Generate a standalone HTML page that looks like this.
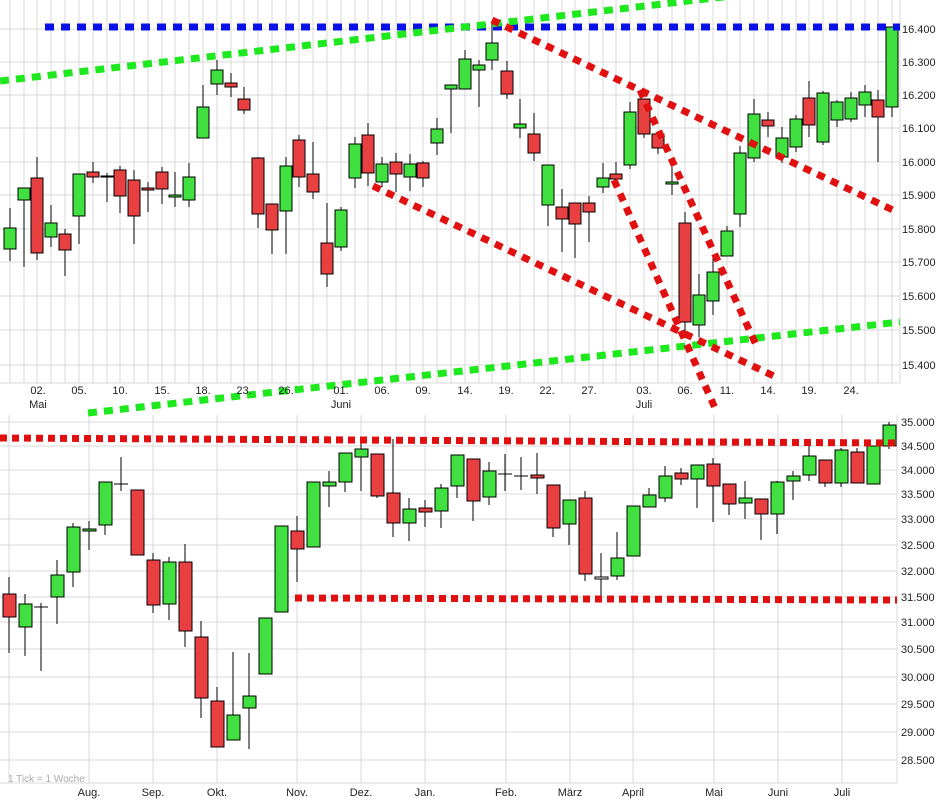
<!DOCTYPE html>
<html><head><meta charset="utf-8"><style>
body{margin:0;background:#fff;}
svg{display:block;font-family:"Liberation Sans",sans-serif;}
.t{font-size:11px;fill:#222;}
.g line{stroke:#d8d8d8;stroke-width:1;}
.c line{stroke:#000;stroke-width:1;}
.c rect{stroke:#000;stroke-width:1;}
</style></head><body>
<svg width="941" height="805" viewBox="0 0 941 805">
<rect width="941" height="805" fill="#fff"/>
<!-- TOP GRID -->
<g class="g">
<line x1="0" y1="29" x2="900" y2="29"/><line x1="0" y1="62" x2="900" y2="62"/><line x1="0" y1="95" x2="900" y2="95"/><line x1="0" y1="128" x2="900" y2="128"/><line x1="0" y1="162" x2="900" y2="162"/><line x1="0" y1="195" x2="900" y2="195"/><line x1="0" y1="229" x2="900" y2="229"/><line x1="0" y1="262" x2="900" y2="262"/><line x1="0" y1="296" x2="900" y2="296"/><line x1="0" y1="330" x2="900" y2="330"/><line x1="0" y1="365" x2="900" y2="365"/>
<line x1="10" y1="0" x2="10" y2="383"/><line x1="24" y1="0" x2="24" y2="383"/><line x1="37" y1="0" x2="37" y2="383"/><line x1="51" y1="0" x2="51" y2="383"/><line x1="65" y1="0" x2="65" y2="383"/><line x1="79" y1="0" x2="79" y2="383"/><line x1="93" y1="0" x2="93" y2="383"/><line x1="107" y1="0" x2="107" y2="383"/><line x1="120" y1="0" x2="120" y2="383"/><line x1="134" y1="0" x2="134" y2="383"/><line x1="148" y1="0" x2="148" y2="383"/><line x1="162" y1="0" x2="162" y2="383"/><line x1="175" y1="0" x2="175" y2="383"/><line x1="189" y1="0" x2="189" y2="383"/><line x1="203" y1="0" x2="203" y2="383"/><line x1="217" y1="0" x2="217" y2="383"/><line x1="231" y1="0" x2="231" y2="383"/><line x1="244" y1="0" x2="244" y2="383"/><line x1="258" y1="0" x2="258" y2="383"/><line x1="272" y1="0" x2="272" y2="383"/><line x1="286" y1="0" x2="286" y2="383"/><line x1="299" y1="0" x2="299" y2="383"/><line x1="313" y1="0" x2="313" y2="383"/><line x1="327" y1="0" x2="327" y2="383"/><line x1="341" y1="0" x2="341" y2="383"/><line x1="355" y1="0" x2="355" y2="383"/><line x1="368" y1="0" x2="368" y2="383"/><line x1="382" y1="0" x2="382" y2="383"/><line x1="396" y1="0" x2="396" y2="383"/><line x1="410" y1="0" x2="410" y2="383"/><line x1="423" y1="0" x2="423" y2="383"/><line x1="437" y1="0" x2="437" y2="383"/><line x1="451" y1="0" x2="451" y2="383"/><line x1="465" y1="0" x2="465" y2="383"/><line x1="479" y1="0" x2="479" y2="383"/><line x1="492" y1="0" x2="492" y2="383"/><line x1="507" y1="0" x2="507" y2="383"/><line x1="520" y1="0" x2="520" y2="383"/><line x1="534" y1="0" x2="534" y2="383"/><line x1="548" y1="0" x2="548" y2="383"/><line x1="562" y1="0" x2="562" y2="383"/><line x1="575" y1="0" x2="575" y2="383"/><line x1="589" y1="0" x2="589" y2="383"/><line x1="603" y1="0" x2="603" y2="383"/><line x1="616" y1="0" x2="616" y2="383"/><line x1="630" y1="0" x2="630" y2="383"/><line x1="644" y1="0" x2="644" y2="383"/><line x1="658" y1="0" x2="658" y2="383"/><line x1="672" y1="0" x2="672" y2="383"/><line x1="685" y1="0" x2="685" y2="383"/><line x1="699" y1="0" x2="699" y2="383"/><line x1="713" y1="0" x2="713" y2="383"/><line x1="727" y1="0" x2="727" y2="383"/><line x1="740" y1="0" x2="740" y2="383"/><line x1="754" y1="0" x2="754" y2="383"/><line x1="768" y1="0" x2="768" y2="383"/><line x1="782" y1="0" x2="782" y2="383"/><line x1="796" y1="0" x2="796" y2="383"/><line x1="809" y1="0" x2="809" y2="383"/><line x1="823" y1="0" x2="823" y2="383"/><line x1="837" y1="0" x2="837" y2="383"/><line x1="851" y1="0" x2="851" y2="383"/><line x1="865" y1="0" x2="865" y2="383"/><line x1="878" y1="0" x2="878" y2="383"/><line x1="892" y1="0" x2="892" y2="383"/>
<line x1="900" y1="0" x2="900" y2="383"/><line x1="0" y1="383" x2="900" y2="383"/>
</g>
<!-- BOTTOM GRID -->
<g class="g">
<line x1="0" y1="422" x2="897" y2="422"/><line x1="0" y1="446" x2="897" y2="446"/><line x1="0" y1="470" x2="897" y2="470"/><line x1="0" y1="494" x2="897" y2="494"/><line x1="0" y1="519" x2="897" y2="519"/><line x1="0" y1="545" x2="897" y2="545"/><line x1="0" y1="571" x2="897" y2="571"/><line x1="0" y1="597" x2="897" y2="597"/><line x1="0" y1="622" x2="897" y2="622"/><line x1="0" y1="649" x2="897" y2="649"/><line x1="0" y1="677" x2="897" y2="677"/><line x1="0" y1="704" x2="897" y2="704"/><line x1="0" y1="732" x2="897" y2="732"/><line x1="0" y1="760" x2="897" y2="760"/>
<line x1="9" y1="415" x2="9" y2="783"/><line x1="89" y1="415" x2="89" y2="783"/><line x1="153" y1="415" x2="153" y2="783"/><line x1="217" y1="415" x2="217" y2="783"/><line x1="297" y1="415" x2="297" y2="783"/><line x1="361" y1="415" x2="361" y2="783"/><line x1="425" y1="415" x2="425" y2="783"/><line x1="506" y1="415" x2="506" y2="783"/><line x1="570" y1="415" x2="570" y2="783"/><line x1="633" y1="415" x2="633" y2="783"/><line x1="714" y1="415" x2="714" y2="783"/><line x1="778" y1="415" x2="778" y2="783"/><line x1="842" y1="415" x2="842" y2="783"/>
<line x1="897" y1="415" x2="897" y2="783"/><line x1="0" y1="783" x2="897" y2="783"/>
</g>
<!-- TOP CANDLES -->
<g class="c">
<line x1="10" y1="208" x2="10" y2="261"/><rect x="4" y="228" width="12" height="21" fill="#3fe03f"/>
<line x1="24" y1="188" x2="24" y2="267"/><rect x="18" y="188" width="12" height="12" fill="#3fe03f"/>
<line x1="37" y1="157" x2="37" y2="260"/><rect x="31" y="178" width="12" height="75" fill="#e84040"/>
<line x1="51" y1="205" x2="51" y2="247"/><rect x="45" y="223" width="12" height="14" fill="#3fe03f"/>
<line x1="65" y1="229" x2="65" y2="276"/><rect x="59" y="234" width="12" height="16" fill="#e84040"/>
<line x1="79" y1="174" x2="79" y2="244"/><rect x="73" y="174" width="12" height="42" fill="#3fe03f"/>
<line x1="93" y1="162" x2="93" y2="183"/><rect x="87" y="172" width="12" height="5" fill="#e84040"/>
<line x1="107" y1="173" x2="107" y2="202"/><rect x="101" y="176" width="12" height="1" fill="#e84040"/>
<line x1="120" y1="166" x2="120" y2="213"/><rect x="114" y="170" width="12" height="26" fill="#e84040"/>
<line x1="134" y1="170" x2="134" y2="244"/><rect x="128" y="180" width="12" height="36" fill="#e84040"/>
<line x1="148" y1="182" x2="148" y2="212"/><rect x="142" y="188" width="12" height="2" fill="#e84040"/>
<line x1="162" y1="167" x2="162" y2="204"/><rect x="156" y="172" width="12" height="17" fill="#e84040"/>
<line x1="175" y1="172" x2="175" y2="207"/><rect x="169" y="195" width="12" height="2" fill="#3fe03f"/>
<line x1="189" y1="163" x2="189" y2="207"/><rect x="183" y="177" width="12" height="23" fill="#3fe03f"/>
<line x1="203" y1="85" x2="203" y2="138"/><rect x="197" y="107" width="12" height="31" fill="#3fe03f"/>
<line x1="217" y1="60" x2="217" y2="95"/><rect x="211" y="70" width="12" height="14" fill="#3fe03f"/>
<line x1="231" y1="73" x2="231" y2="97"/><rect x="225" y="83" width="12" height="4" fill="#e84040"/>
<line x1="244" y1="87" x2="244" y2="114"/><rect x="238" y="99" width="12" height="11" fill="#e84040"/>
<line x1="258" y1="157" x2="258" y2="228"/><rect x="252" y="158" width="12" height="56" fill="#e84040"/>
<line x1="272" y1="204" x2="272" y2="254"/><rect x="266" y="204" width="12" height="26" fill="#e84040"/>
<line x1="286" y1="157" x2="286" y2="254"/><rect x="280" y="166" width="12" height="45" fill="#3fe03f"/>
<line x1="299" y1="135" x2="299" y2="187"/><rect x="293" y="140" width="12" height="37" fill="#e84040"/>
<line x1="313" y1="142" x2="313" y2="199"/><rect x="307" y="174" width="12" height="18" fill="#e84040"/>
<line x1="327" y1="203" x2="327" y2="287"/><rect x="321" y="243" width="12" height="31" fill="#e84040"/>
<line x1="341" y1="207" x2="341" y2="251"/><rect x="335" y="210" width="12" height="37" fill="#3fe03f"/>
<line x1="355" y1="137" x2="355" y2="188"/><rect x="349" y="144" width="12" height="34" fill="#3fe03f"/>
<line x1="368" y1="123" x2="368" y2="186"/><rect x="362" y="135" width="12" height="38" fill="#e84040"/>
<line x1="382" y1="157" x2="382" y2="187"/><rect x="376" y="164" width="12" height="18" fill="#3fe03f"/>
<line x1="396" y1="153" x2="396" y2="192"/><rect x="390" y="162" width="12" height="12" fill="#e84040"/>
<line x1="410" y1="154" x2="410" y2="191"/><rect x="404" y="164" width="12" height="13" fill="#3fe03f"/>
<line x1="423" y1="161" x2="423" y2="187"/><rect x="417" y="163" width="12" height="15" fill="#e84040"/>
<line x1="437" y1="118" x2="437" y2="155"/><rect x="431" y="129" width="12" height="14" fill="#3fe03f"/>
<line x1="451" y1="85" x2="451" y2="133"/><rect x="445" y="85" width="12" height="4" fill="#3fe03f"/>
<line x1="465" y1="50" x2="465" y2="89"/><rect x="459" y="59" width="12" height="30" fill="#3fe03f"/>
<line x1="479" y1="60" x2="479" y2="107"/><rect x="473" y="65" width="12" height="5" fill="#3fe03f"/>
<line x1="492" y1="23" x2="492" y2="70"/><rect x="486" y="43" width="12" height="17" fill="#3fe03f"/>
<line x1="507" y1="61" x2="507" y2="99"/><rect x="501" y="71" width="12" height="23" fill="#e84040"/>
<line x1="520" y1="99" x2="520" y2="138"/><rect x="514" y="124" width="12" height="4" fill="#3fe03f"/>
<line x1="534" y1="113" x2="534" y2="161"/><rect x="528" y="134" width="12" height="19" fill="#e84040"/>
<line x1="548" y1="165" x2="548" y2="226"/><rect x="542" y="165" width="12" height="40" fill="#3fe03f"/>
<line x1="562" y1="189" x2="562" y2="252"/><rect x="556" y="207" width="12" height="12" fill="#e84040"/>
<line x1="575" y1="203" x2="575" y2="258"/><rect x="569" y="203" width="12" height="21" fill="#e84040"/>
<line x1="589" y1="196" x2="589" y2="242"/><rect x="583" y="203" width="12" height="9" fill="#e84040"/>
<line x1="603" y1="163" x2="603" y2="193"/><rect x="597" y="178" width="12" height="9" fill="#3fe03f"/>
<line x1="616" y1="162" x2="616" y2="183"/><rect x="610" y="174" width="12" height="5" fill="#e84040"/>
<line x1="630" y1="102" x2="630" y2="169"/><rect x="624" y="112" width="12" height="53" fill="#3fe03f"/>
<line x1="644" y1="99" x2="644" y2="138"/><rect x="638" y="99" width="12" height="35" fill="#e84040"/>
<line x1="658" y1="134" x2="658" y2="154"/><rect x="652" y="134" width="12" height="14" fill="#e84040"/>
<line x1="672" y1="167" x2="672" y2="195"/><rect x="666" y="182" width="12" height="2" fill="#3fe03f"/>
<line x1="685" y1="212" x2="685" y2="333"/><rect x="679" y="223" width="12" height="99" fill="#e84040"/>
<line x1="699" y1="274" x2="699" y2="337"/><rect x="693" y="295" width="12" height="30" fill="#3fe03f"/>
<line x1="713" y1="257" x2="713" y2="315"/><rect x="707" y="272" width="12" height="29" fill="#3fe03f"/>
<line x1="727" y1="226" x2="727" y2="256"/><rect x="721" y="231" width="12" height="25" fill="#3fe03f"/>
<line x1="740" y1="146" x2="740" y2="227"/><rect x="734" y="153" width="12" height="61" fill="#3fe03f"/>
<line x1="754" y1="99" x2="754" y2="162"/><rect x="748" y="114" width="12" height="44" fill="#3fe03f"/>
<line x1="768" y1="112" x2="768" y2="137"/><rect x="762" y="120" width="12" height="6" fill="#e84040"/>
<line x1="782" y1="127" x2="782" y2="163"/><rect x="776" y="138" width="12" height="19" fill="#3fe03f"/>
<line x1="796" y1="115" x2="796" y2="152"/><rect x="790" y="119" width="12" height="28" fill="#3fe03f"/>
<line x1="809" y1="81" x2="809" y2="137"/><rect x="803" y="98" width="12" height="27" fill="#e84040"/>
<line x1="823" y1="91" x2="823" y2="145"/><rect x="817" y="93" width="12" height="49" fill="#3fe03f"/>
<line x1="837" y1="100" x2="837" y2="127"/><rect x="831" y="102" width="12" height="18" fill="#3fe03f"/>
<line x1="851" y1="92" x2="851" y2="122"/><rect x="845" y="98" width="12" height="21" fill="#3fe03f"/>
<line x1="865" y1="85" x2="865" y2="117"/><rect x="859" y="92" width="12" height="13" fill="#3fe03f"/>
<line x1="878" y1="90" x2="878" y2="162"/><rect x="872" y="100" width="12" height="17" fill="#e84040"/>
<line x1="892" y1="27" x2="892" y2="117"/><rect x="886" y="27" width="12" height="80" fill="#3fe03f"/>
</g>
<!-- BOTTOM CANDLES -->
<g class="c">
<line x1="9" y1="577" x2="9" y2="653"/><rect x="3" y="594" width="13" height="23" fill="#e84040"/>
<line x1="25" y1="594" x2="25" y2="656"/><rect x="19" y="604" width="13" height="23" fill="#3fe03f"/>
<line x1="41" y1="603" x2="41" y2="671"/><line x1="34" y1="607" x2="48" y2="607"/>
<line x1="57" y1="560" x2="57" y2="624"/><rect x="51" y="575" width="13" height="22" fill="#3fe03f"/>
<line x1="73" y1="523" x2="73" y2="587"/><rect x="67" y="527" width="13" height="45" fill="#3fe03f"/>
<line x1="89" y1="521" x2="89" y2="550"/><rect x="83" y="529" width="13" height="2" fill="#3fe03f"/>
<line x1="105" y1="482" x2="105" y2="535"/><rect x="99" y="482" width="13" height="43" fill="#3fe03f"/>
<line x1="121" y1="457" x2="121" y2="491"/><line x1="114" y1="484" x2="128" y2="484"/>
<rect x="131" y="490" width="13" height="65" fill="#e84040"/>
<line x1="153" y1="553" x2="153" y2="613"/><rect x="147" y="560" width="13" height="45" fill="#e84040"/>
<line x1="169" y1="557" x2="169" y2="620"/><rect x="163" y="562" width="13" height="42" fill="#3fe03f"/>
<line x1="185" y1="544" x2="185" y2="647"/><rect x="179" y="562" width="13" height="69" fill="#e84040"/>
<line x1="201" y1="621" x2="201" y2="718"/><rect x="195" y="637" width="13" height="61" fill="#e84040"/>
<line x1="217" y1="687" x2="217" y2="747"/><rect x="211" y="701" width="13" height="46" fill="#e84040"/>
<line x1="233" y1="652" x2="233" y2="740"/><rect x="227" y="715" width="13" height="25" fill="#3fe03f"/>
<line x1="249" y1="653" x2="249" y2="749"/><rect x="243" y="696" width="13" height="12" fill="#3fe03f"/>
<rect x="259" y="618" width="13" height="56" fill="#3fe03f"/>
<rect x="275" y="526" width="13" height="86" fill="#3fe03f"/>
<line x1="297" y1="516" x2="297" y2="582"/><rect x="291" y="531" width="13" height="18" fill="#e84040"/>
<rect x="307" y="482" width="13" height="65" fill="#3fe03f"/>
<line x1="329" y1="471" x2="329" y2="507"/><rect x="323" y="482" width="13" height="4" fill="#3fe03f"/>
<line x1="345" y1="453" x2="345" y2="492"/><rect x="339" y="453" width="13" height="29" fill="#3fe03f"/>
<line x1="361" y1="442" x2="361" y2="491"/><rect x="355" y="449" width="13" height="8" fill="#3fe03f"/>
<line x1="377" y1="454" x2="377" y2="498"/><rect x="371" y="454" width="13" height="42" fill="#e84040"/>
<line x1="393" y1="439" x2="393" y2="537"/><rect x="387" y="493" width="13" height="30" fill="#e84040"/>
<line x1="409" y1="498" x2="409" y2="541"/><rect x="403" y="509" width="13" height="14" fill="#3fe03f"/>
<line x1="425" y1="500" x2="425" y2="527"/><rect x="419" y="508" width="13" height="4" fill="#e84040"/>
<line x1="441" y1="484" x2="441" y2="528"/><rect x="435" y="488" width="13" height="23" fill="#3fe03f"/>
<line x1="457" y1="455" x2="457" y2="498"/><rect x="451" y="455" width="13" height="31" fill="#3fe03f"/>
<line x1="473" y1="459" x2="473" y2="521"/><rect x="467" y="459" width="13" height="42" fill="#e84040"/>
<line x1="489" y1="462" x2="489" y2="505"/><rect x="483" y="471" width="13" height="26" fill="#3fe03f"/>
<line x1="505" y1="454" x2="505" y2="491"/><line x1="498" y1="474" x2="512" y2="474"/>
<line x1="521" y1="457" x2="521" y2="490"/><line x1="514" y1="476" x2="528" y2="476"/>
<line x1="537" y1="453" x2="537" y2="494"/><rect x="531" y="475" width="13" height="3" fill="#e84040"/>
<line x1="553" y1="485" x2="553" y2="537"/><rect x="547" y="485" width="13" height="43" fill="#e84040"/>
<line x1="569" y1="500" x2="569" y2="545"/><rect x="563" y="500" width="13" height="24" fill="#3fe03f"/>
<line x1="585" y1="491" x2="585" y2="581"/><rect x="579" y="498" width="13" height="76" fill="#e84040"/>
<line x1="601" y1="553" x2="601" y2="598"/><rect x="595" y="577" width="13" height="2" fill="#fff"/>
<line x1="617" y1="532" x2="617" y2="580"/><rect x="611" y="558" width="13" height="18" fill="#3fe03f"/>
<rect x="627" y="506" width="13" height="50" fill="#3fe03f"/>
<line x1="649" y1="488" x2="649" y2="507"/><rect x="643" y="495" width="13" height="12" fill="#3fe03f"/>
<line x1="665" y1="466" x2="665" y2="502"/><rect x="659" y="476" width="13" height="22" fill="#3fe03f"/>
<line x1="681" y1="468" x2="681" y2="485"/><rect x="675" y="473" width="13" height="6" fill="#e84040"/>
<line x1="697" y1="465" x2="697" y2="508"/><rect x="691" y="465" width="13" height="14" fill="#3fe03f"/>
<line x1="713" y1="458" x2="713" y2="522"/><rect x="707" y="464" width="13" height="22" fill="#e84040"/>
<line x1="729" y1="484" x2="729" y2="515"/><rect x="723" y="484" width="13" height="20" fill="#e84040"/>
<line x1="745" y1="481" x2="745" y2="519"/><rect x="739" y="498" width="13" height="5" fill="#3fe03f"/>
<line x1="761" y1="499" x2="761" y2="540"/><rect x="755" y="499" width="13" height="15" fill="#e84040"/>
<line x1="777" y1="481" x2="777" y2="534"/><rect x="771" y="482" width="13" height="32" fill="#3fe03f"/>
<line x1="793" y1="471" x2="793" y2="500"/><rect x="787" y="476" width="13" height="5" fill="#3fe03f"/>
<line x1="809" y1="445" x2="809" y2="481"/><rect x="803" y="456" width="13" height="19" fill="#3fe03f"/>
<line x1="825" y1="460" x2="825" y2="487"/><rect x="819" y="460" width="13" height="23" fill="#e84040"/>
<line x1="841" y1="448" x2="841" y2="487"/><rect x="835" y="450" width="13" height="33" fill="#3fe03f"/>
<line x1="857" y1="448" x2="857" y2="483"/><rect x="851" y="452" width="13" height="31" fill="#e84040"/>
<rect x="867" y="446" width="13" height="38" fill="#3fe03f"/>
<line x1="889" y1="422" x2="889" y2="449"/><rect x="883" y="425" width="13" height="21" fill="#3fe03f"/>
</g>
<!-- TREND LINES -->
<g fill="none" stroke-width="7">
<line x1="45" y1="27" x2="900" y2="27" stroke="#0a10e8" stroke-dasharray="9 7"/>
<line x1="0" y1="81" x2="740" y2="-5" stroke="#1ee81e" stroke-dasharray="9 7"/>
<line x1="88" y1="413" x2="900" y2="322" stroke="#1ee81e" stroke-dasharray="9 7"/>
<line x1="492" y1="20" x2="897" y2="212" stroke="#e01010" stroke-dasharray="8 7"/>
<line x1="373" y1="186" x2="778" y2="378" stroke="#e01010" stroke-dasharray="8 7"/>
<line x1="614" y1="180" x2="715" y2="408" stroke="#e01010" stroke-dasharray="8 7"/>
<line x1="640" y1="90" x2="757" y2="347" stroke="#e01010" stroke-dasharray="8 7"/>
<line x1="0" y1="438" x2="897" y2="443" stroke="#e01010" stroke-dasharray="7 5"/>
<line x1="295" y1="598" x2="897" y2="600" stroke="#e01010" stroke-dasharray="7 5"/>
</g>
<!-- LABELS TOP -->
<g class="t">
<text x="902" y="33">16.400</text><text x="902" y="66">16.300</text><text x="902" y="99">16.200</text><text x="902" y="132">16.100</text><text x="902" y="166">16.000</text><text x="902" y="199">15.900</text><text x="902" y="233">15.800</text><text x="902" y="266">15.700</text><text x="902" y="300">15.600</text><text x="902" y="334">15.500</text><text x="902" y="369">15.400</text>
</g>
<g class="t" text-anchor="middle">
<text x="38" y="394">02.</text><text x="79" y="394">05.</text><text x="120" y="394">10.</text><text x="162" y="394">15.</text><text x="203" y="394">18.</text><text x="244" y="394">23.</text><text x="286" y="394">26.</text><text x="341" y="394">01.</text><text x="382" y="394">06.</text><text x="423" y="394">09.</text><text x="465" y="394">14.</text><text x="506" y="394">19.</text><text x="547" y="394">22.</text><text x="589" y="394">27.</text><text x="644" y="394">03.</text><text x="685" y="394">06.</text><text x="727" y="394">11.</text><text x="768" y="394">14.</text><text x="809" y="394">19.</text><text x="851" y="394">24.</text>
<text x="38" y="408">Mai</text><text x="341" y="408">Juni</text><text x="644" y="408">Juli</text>
</g>
<!-- LABELS BOTTOM -->
<g class="t">
<text x="901" y="426">35.000</text><text x="901" y="450">34.500</text><text x="901" y="474">34.000</text><text x="901" y="498">33.500</text><text x="901" y="523">33.000</text><text x="901" y="549">32.500</text><text x="901" y="575">32.000</text><text x="901" y="601">31.500</text><text x="901" y="626">31.000</text><text x="901" y="653">30.500</text><text x="901" y="681">30.000</text><text x="901" y="708">29.500</text><text x="901" y="736">29.000</text><text x="901" y="764">28.500</text>
</g>
<g class="t" text-anchor="middle">
<text x="89" y="796">Aug.</text><text x="153" y="796">Sep.</text><text x="217" y="796">Okt.</text><text x="297" y="796">Nov.</text><text x="361" y="796">Dez.</text><text x="425" y="796">Jan.</text><text x="506" y="796">Feb.</text><text x="570" y="796">März</text><text x="633" y="796">April</text><text x="714" y="796">Mai</text><text x="778" y="796">Juni</text><text x="842" y="796">Juli</text>
</g>
<text x="8" y="782" style="font-size:10px;fill:#aaa">1 Tick = 1 Woche</text>
</svg>
</body></html>
